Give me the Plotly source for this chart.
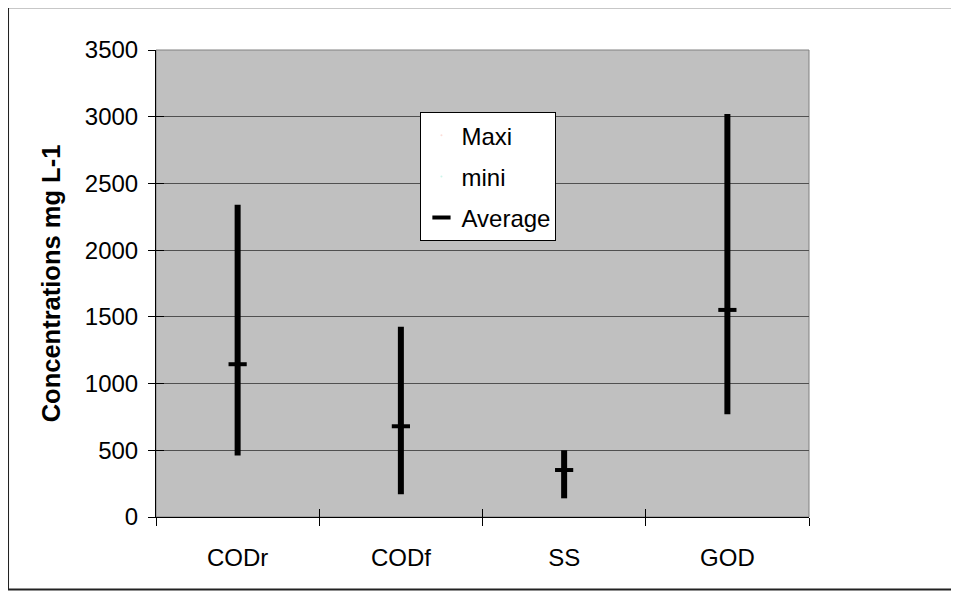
import plotly.graph_objects as go

categories = ["CODr", "CODf", "SS", "GOD"]
maxi = [2340, 1425, 500, 3020]
mini = [460, 170, 140, 770]
average = [1145, 680, 352, 1552]
y_ticks = [0, 500, 1000, 1500, 2000, 2500, 3000, 3500]

FONT = "Liberation Sans, Arial, sans-serif"

# high-low segments built from data
xs, ys = [], []
for c, lo, hi in zip(categories, mini, maxi):
    xs += [c, c, None]
    ys += [lo, hi, None]

fig = go.Figure()
fig.add_trace(go.Scatter(x=xs, y=ys, mode="lines", line=dict(color="black", width=6),
                         showlegend=False, hoverinfo="skip"))
fig.add_trace(go.Scatter(x=categories, y=maxi, mode="markers", name="Maxi",
                         marker=dict(opacity=0, size=1), legendgroup="a", hoverinfo="skip"))
fig.add_trace(go.Scatter(x=categories, y=mini, mode="markers", name="mini",
                         marker=dict(opacity=0, size=1), legendgroup="b", hoverinfo="skip"))
fig.add_trace(go.Scatter(x=categories, y=average, mode="markers", name="Average",
                         marker=dict(symbol="line-ew", size=13, color="black",
                                     line=dict(color="black", width=4)),
                         legendgroup="c", hoverinfo="skip"))
# helper trace for the inner tick marks
fig.add_trace(go.Scatter(x=categories, y=[None] * len(categories), xaxis="x2", yaxis="y2",
                         mode="markers", showlegend=False, hoverinfo="skip"))

fig.update_layout(
    width=951, height=589,
    margin=dict(l=148, r=150, t=42, b=80),
    paper_bgcolor="white", plot_bgcolor="#C0C0C0",
    font=dict(family=FONT, size=24, color="black"),
    showlegend=True,
    legend=dict(x=0.405, y=0.867, xanchor="left", yanchor="top",
                bgcolor="white", bordercolor="black", borderwidth=1,
                font=dict(family=FONT, size=24), tracegroupgap=7, itemwidth=30,
                traceorder="grouped"),
    xaxis=dict(type="category", categoryorder="array", categoryarray=categories,
               range=[-0.5, 3.5], showline=True, linecolor="black", linewidth=1,
               ticks="outside", ticklen=8, tickcolor="black", tickwidth=1,
               tickson="boundaries", showgrid=False, zeroline=False,
               ticklabelstandoff=19, tickfont=dict(size=24)),
    xaxis2=dict(type="category", categoryorder="array", categoryarray=categories,
                range=[-0.5, 3.5], overlaying="x", anchor="y2", ticks="inside", ticklen=8,
                tickcolor="black", tickwidth=1, tickson="boundaries", showline=False,
                showgrid=False, showticklabels=False, zeroline=False),
    yaxis=dict(range=[0, 3500], tickvals=y_ticks, showline=True, linecolor="black",
               linewidth=1, ticks="outside", ticklen=7, tickcolor="black",
               gridcolor="#505050", gridwidth=1, zeroline=False, tickfont=dict(size=24),
               ticklabelstandoff=5,
               title=dict(text="<b>Concentrations mg L-1</b>",
                          font=dict(family=FONT, size=25.5), standoff=16)),
    yaxis2=dict(range=[0, 3500], tickvals=y_ticks, overlaying="y", anchor="x2",
                ticks="inside", ticklen=8, tickcolor="black", tickwidth=1, showgrid=False,
                showticklabels=False, zeroline=False, showline=False),
    shapes=[
        dict(type="rect", xref="paper", yref="paper", x0=0, x1=1, y0=0, y1=1,
             line=dict(color="#808080", width=1), layer="below"),
        dict(type="rect", xref="paper", yref="paper", x0=-0.2266, x1=1.2894,
             y0=-0.1555, y1=1.0913, line=dict(color="#222222", width=2)),
    ],
)

fig.write_html("out.html")
